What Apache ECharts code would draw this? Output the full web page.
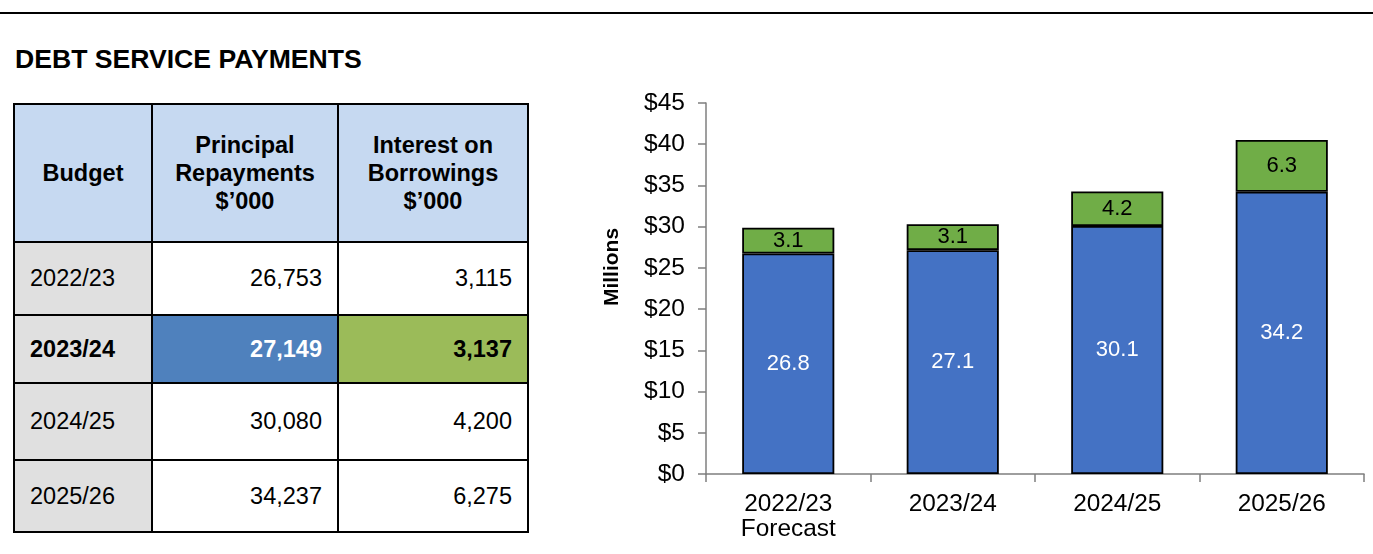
<!DOCTYPE html>
<html>
<head>
<meta charset="utf-8">
<script src="https://cdn.jsdelivr.net/npm/echarts@6/dist/echarts.min.js"></script>
<style>
  html, body { margin: 0; padding: 0; background: #fff; }
  body { width: 1373px; height: 554px; position: relative; overflow: hidden;
         font-family: "Liberation Sans", Arial, sans-serif; color: #000; }
  #rule { position: absolute; left: 0; top: 12px; width: 1373px; height: 2px; background: #000; }
  #title { position: absolute; left: 15px; top: 44px; font-size: 26.6px; font-weight: bold; line-height: 30px; }
  #tbl { position: absolute; left: 13px; top: 103px; border-collapse: collapse; }
  #tbl td, #tbl th { border: 2px solid #000; padding: 0 15px; font-size: 23.5px; }
  #tbl th { background: #c6d9f1; font-weight: bold; text-align: center; line-height: 28px; }
  #tbl td.yr { background: #e0e0e0; text-align: left; }
  #tbl td.num { text-align: right; background: #fff; }
  #tbl tr.cur td { font-weight: bold; }
  #tbl tr.cur td.p { background: #4f81bd; color: #fff; }
  #tbl tr.cur td.i { background: #9bbb59; color: #000; }
  #chart { position: absolute; left: 560px; top: 0; width: 813px; height: 554px; }
</style>
</head>
<body>
<div id="rule"></div>
<div id="title">DEBT SERVICE PAYMENTS</div>
<table id="tbl"></table>
<div id="chart"></div>
<script>
// Budget years, amounts in $'000
const years = ['2022/23', '2023/24', '2024/25', '2025/26'];
const principal = [26753, 27149, 30080, 34237];
const interest = [3115, 3137, 4200, 6275];
const currentYear = '2023/24';

// Chart categories and axis ticks
const chartCategories = ['2022/23\nForecast', '2023/24', '2024/25', '2025/26'];
const yTicks = { min: 0, max: 45, step: 5 };

const headers = ['Budget', 'Principal<br>Repayments<br>$\u2019000', 'Interest on<br>Borrowings<br>$\u2019000'];
const colWidths = [138, 186, 190];
const rowHeights = [138, 73, 68, 77, 72];

// Table
const tbl = document.getElementById('tbl');
const fmt = v => v.toLocaleString('en-US');
let html = '<tr style="height:' + rowHeights[0] + 'px">';
headers.forEach((h, k) => {
  html += '<th style="width:' + (colWidths[k] - 32) + 'px">' + h + '</th>';
});
html += '</tr>';
years.forEach((y, r) => {
  const cls = y === currentYear ? ' class="cur"' : '';
  html += '<tr' + cls + ' style="height:' + rowHeights[r + 1] + 'px">' +
    '<td class="yr">' + y + '</td>' +
    '<td class="num p">' + fmt(principal[r]) + '</td>' +
    '<td class="num i">' + fmt(interest[r]) + '</td></tr>';
});
tbl.innerHTML = html;

// Stacked bar chart, values in $ millions
const toMillions = arr => arr.map(v => v / 1000);
const chart = echarts.init(document.getElementById('chart'));
const fontFamily = '"Liberation Sans", Arial, sans-serif';
const axisGrey = '#7f7f7f';
const barLabel = color => ({
  show: true,
  position: 'inside',
  color: color,
  fontSize: 22,
  fontFamily: fontFamily,
  formatter: p => p.value.toFixed(1)
});
chart.setOption({
  animation: false,
  grid: { left: 146, right: 9, top: 103, bottom: 80 },
  xAxis: {
    type: 'category',
    data: chartCategories,
    axisLine: { lineStyle: { color: axisGrey, width: 1.5 } },
    axisTick: { show: true, length: 8, lineStyle: { color: axisGrey, width: 1.5 } },
    axisLabel: { color: '#000', fontSize: 24.4, fontFamily: fontFamily, margin: 18, lineHeight: 25 }
  },
  yAxis: {
    type: 'value',
    min: yTicks.min,
    max: yTicks.max,
    interval: yTicks.step,
    name: 'Millions',
    nameLocation: 'middle',
    nameRotate: 90,
    nameGap: 83,
    nameTextStyle: {
      color: '#000', fontSize: 21, fontWeight: 'bold', fontFamily: fontFamily,
      padding: [0, 0, 0, 43]
    },
    axisLine: { show: true, lineStyle: { color: axisGrey, width: 1.5 } },
    axisTick: { show: true, length: 8, lineStyle: { color: axisGrey, width: 1.5 } },
    splitLine: { show: false },
    axisLabel: { color: '#000', fontSize: 24.5, fontFamily: fontFamily, margin: 21, formatter: v => '$' + v }
  },
  series: [
    {
      name: 'Principal Repayments',
      type: 'bar',
      stack: 'total',
      barWidth: '56%',
      data: toMillions(principal),
      itemStyle: { color: '#4472c4', borderColor: '#000', borderWidth: 1.8 },
      label: barLabel('#fff')
    },
    {
      name: 'Interest on Borrowings',
      type: 'bar',
      stack: 'total',
      barWidth: '56%',
      data: toMillions(interest),
      itemStyle: { color: '#70ad47', borderColor: '#000', borderWidth: 1.8 },
      label: barLabel('#000')
    }
  ]
});
</script>
</body>
</html>
